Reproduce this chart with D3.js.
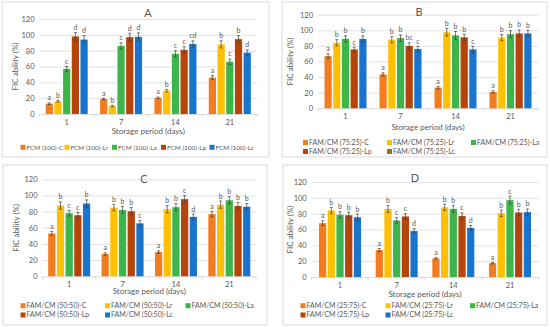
<!DOCTYPE html>
<html><head><meta charset="utf-8">
<script src="https://cdn.jsdelivr.net/npm/d3@7"></script>
<style>body{margin:0;background:#fff}svg{display:block}text{font-family:Lato,"Open Sans",sans-serif;fill:#595959}</style>
</head><body><svg id="c" width="550" height="327"></svg>
<script>
const days = ["1","7","14","21"];
const yTicks = [0,20,40,60,80,100,120];
const suffixes = ["C","Lr","La","Lp","Lc"];
const colors = ["#F47C20","#FFC000","#3DB54A","#B5450B","#1874CD"];
const legendPrefixA = "FCM (100)-";
const legendPrefixB = "FAM/CM (75:25)-";
const legendPrefixC = "FAM/CM (50:50)-";
const legendPrefixD = "FAM/CM (25:75)-";

const valuesA = [[13,16,57,98,94],[19,10,86,97,97.5],[20.5,29.5,76,81,88.5],[46,88,66,94.5,77.5]];
const errorsA = [[1,1,3,5,5],[1,1,4,5,5],[1,1.5,4,4,4],[2.5,4.5,3.5,4.5,3.5]];
const lettersA = [["a","b","c","d","d"],["a","b","c","d","d"],["a","b","c","c","cd"],["a","b","c","b","d"]];

const valuesB = [[67,84,89,75.5,89],[43.5,88,90,80,76],[26.5,97.5,93.5,91,75.5],[21,90.5,95,96,96]];
const errorsB = [[3,4,4,3,4],[2,4,4,4,3.5],[1.5,5,5,4,4],[1.5,4,4.5,4.5,4]];
const lettersB = [["a","b","b","c","b"],["a","b","b","bc","c"],["a","b","b","b","c"],["a","b","b","b","b"]];

const valuesC = [[53,87.5,78,75.5,90],[27.5,85,82,80.5,65.5],[30,83,85.5,95.5,73.5],[77,88.5,94,87,86]];
const errorsC = [[2.5,4.5,3.5,3.5,4.5],[1.5,4,4.5,4.5,3.5],[1.5,4.5,4.5,4.5,3.5],[3.5,4.5,4.5,4.5,4]];
const lettersC = [["a","b","c","c","b"],["a","b","b","b","c"],["a","b","b","c","d"],["a","b","b","b","b"]];

const valuesD = [[68,84,78.5,78,75.5],[34,86,71.5,76.5,58],[23.5,88,86,77,62],[17.5,80.5,97,81.5,82]];
const errorsD = [[3,4,4,4,4],[2,4.5,3.5,3.5,3],[1,4,4.5,4,3],[1,4,5,4,4]];
const lettersD = [["a","b","b","b","b"],["a","b","c","c","d"],["a","b","b","c","d"],["a","b","c","b","b"]];

const svg = d3.select("#c");

function panel(cfg){
  const g = svg.append("g");
  g.append("rect").attr("x",cfg.box[0]).attr("y",cfg.box[1]).attr("width",cfg.box[2]-cfg.box[0]).attr("height",cfg.box[3]-cfg.box[1])
    .attr("fill","#fff").attr("stroke","#d9d9d9").attr("stroke-width",1);
  const x = d3.scaleBand().domain(days).range([cfg.plot[0],cfg.plot[1]]).padding(0);
  const y = d3.scaleLinear().domain([0,120]).range([cfg.plot[3],cfg.plot[2]]);
  const gw = 42;
  const xi = d3.scaleBand().domain(suffixes).range([(x.bandwidth()-gw)/2,(x.bandwidth()+gw)/2]).paddingInner(0.17).paddingOuter(0);
  const ya = d3.axisLeft(y).tickValues(yTicks).tickSize(-(cfg.plot[1]-cfg.plot[0])).tickPadding(5);
  const yg = g.append("g").attr("transform",`translate(${cfg.plot[0]},0)`).call(ya);
  yg.select(".domain").remove();
  yg.selectAll(".tick line").attr("stroke","#d9d9d9").attr("stroke-width",0.8);
  yg.selectAll(".tick").filter(d=>d===0).select("line").remove();
  yg.selectAll(".tick text").style("font-size","7.5px").attr("fill","#595959");
  const xa = d3.axisBottom(x).tickSize(0);
  const xg = g.append("g").attr("transform",`translate(0,${cfg.plot[3]})`).call(xa);
  xg.select(".domain").attr("stroke","#d9d9d9");
  xg.selectAll(".tick text").style("font-size","7.5px").attr("fill","#595959").attr("dy","0.35em").attr("y",cfg.tickY-cfg.plot[3]);
  const bounds = days.map(d=>x(d)).concat([cfg.plot[1]]);
  g.selectAll(".sep").data(bounds).join("line").attr("x1",d=>d).attr("x2",d=>d)
    .attr("y1",cfg.plot[3]).attr("y2",cfg.plot[3]+3).attr("stroke","#d9d9d9");
  days.forEach((d,i)=>{
    suffixes.forEach((s,j)=>{
      const v = cfg.values[i][j], e = cfg.errors[i][j];
      const bx = x(d)+xi(s), bw = xi.bandwidth();
      g.append("rect").attr("x",bx).attr("y",y(v)).attr("width",bw).attr("height",y(0)-y(v)).attr("fill",colors[j]);
      const cx = bx+bw/2;
      g.append("line").attr("x1",cx).attr("x2",cx).attr("y1",y(v+e)).attr("y2",y(v-e)).attr("stroke","#404040").attr("stroke-width",0.7);
      [v+e,v-e].forEach(t=>g.append("line").attr("x1",cx-1.5).attr("x2",cx+1.5).attr("y1",y(t)).attr("y2",y(t)).attr("stroke","#404040").attr("stroke-width",0.7));
      g.append("text").attr("x",cx).attr("y",y(v+e)-2.5).attr("text-anchor","middle").style("font-size","7px").attr("fill","#404040").text(cfg.letters[i][j]);
    });
  });
  g.append("text").attr("x",cfg.title[0]).attr("y",cfg.title[1]).attr("text-anchor","middle").attr("dy","0.35em").style("font-size","11px").text(cfg.name);
  g.append("text").attr("x",(cfg.plot[0]+cfg.plot[1])/2).attr("y",cfg.axisTitleY).attr("dy","0.35em").attr("text-anchor","middle").style("font-size","8px").text("Storage period (days)");
  g.append("text").attr("transform",`translate(${cfg.yTitleX},${(cfg.plot[2]+cfg.plot[3])/2}) rotate(-90)`).attr("dy","0.35em").attr("text-anchor","middle").style("font-size","8px").text("FIC ability (%)");
  suffixes.forEach((s,j)=>{
    const p = cfg.legend[j];
    g.append("rect").attr("x",p[0]).attr("y",p[1]-2.5).attr("width",5).attr("height",5).attr("fill",cfg.legendColors?cfg.legendColors[j]:colors[j]);
    g.append("text").attr("x",p[0]+6).attr("y",p[1]).attr("dy","0.35em").style("font-size",cfg.legendSize||"7px").text(cfg.prefix+s);
  });
}

panel({name:"A",box:[2,2,269,157],plot:[39.5,257,19,114],title:[148,13],tickY:122,axisTitleY:131.5,yTitleX:15,
  values:valuesA,errors:errorsA,letters:lettersA,prefix:legendPrefixA,legendSize:"6.4px",
  legend:[[20.5,147.3],[64.5,147.3],[112,147.3],[161,147.3],[209.5,147.3]]});
panel({name:"B",box:[282,2,547,157],plot:[318,538,14.7,108.3],title:[419,12],tickY:116.7,axisTitleY:126.7,yTitleX:290.5,
  values:valuesB,errors:errorsB,letters:lettersB,prefix:legendPrefixB,
  legendColors:["#F47C20","#FFC000","#3DB54A","#B5450B","#9C6B1F"],
  legend:[[303,142.5],[387,142.5],[471,142.5],[303,151.5],[387,151.5]]});
panel({name:"C",box:[3,165,267,325],plot:[42.5,256,179.3,276.3],title:[144,179],tickY:284.5,axisTitleY:291.5,yTitleX:16,
  values:valuesC,errors:errorsC,letters:lettersC,prefix:legendPrefixC,
  legend:[[20.5,305.7],[105,305.7],[185.5,305.7],[20.5,315],[105,315]]});
panel({name:"D",box:[283,165,547,325],plot:[311.7,538.3,182,277],title:[415,178],tickY:285.7,axisTitleY:294,yTitleX:290,
  values:valuesD,errors:errorsD,letters:lettersD,prefix:legendPrefixD,
  legend:[[300.5,305.7],[385.5,305.7],[470,305.7],[300.5,315],[385.5,315]]});
</script></body></html>
